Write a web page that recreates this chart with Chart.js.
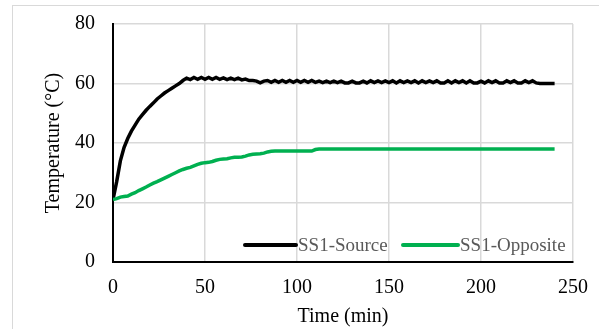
<!DOCTYPE html>
<html>
<head>
<meta charset="utf-8">
<script src="https://cdn.jsdelivr.net/npm/chart.js"></script>
<style>
  html, body { margin: 0; padding: 0; background: #fff; }
  #wrap { position: relative; width: 599px; height: 329px; overflow: hidden; }
  #frame { position: absolute; left: 12px; top: 5px; width: 620px; height: 340px; border: 1px solid #d9d9d9; }
  #c { position: absolute; left: 0; top: 0; }
</style>
</head>
<body>
<div id="wrap">
  <div id="frame"></div>
  <canvas id="c" width="599" height="329"></canvas>
</div>
<script>
// time (min)
const times = [
  0, 2, 4, 6, 8, 10, 12, 14, 16, 18,
  20, 22, 24, 26, 28, 30, 32, 34, 36, 38,
  40, 42, 44, 46, 48, 50, 52, 54, 56, 58,
  60, 62, 64, 66, 68, 70, 72, 74, 76, 78,
  80, 82, 84, 86, 88, 90, 92, 94, 96, 98,
  100, 102, 104, 106, 108, 110, 112, 114, 116, 118,
  120, 122, 124, 126, 128, 130, 132, 134, 136, 138,
  140, 142, 144, 146, 148, 150, 152, 154, 156, 158,
  160, 162, 164, 166, 168, 170, 172, 174, 176, 178,
  180, 182, 184, 186, 188, 190, 192, 194, 196, 198,
  200, 202, 204, 206, 208, 210, 212, 214, 216, 218,
  220, 222, 224, 226, 228, 230, 232, 234, 236, 238,
  240
];

const sourceTemp = [
  21, 27, 34, 38.5, 41.5, 44, 46, 48, 49.5, 51,
  52.3, 53.5, 54.8, 55.8, 56.8, 57.6, 58.4, 59.2, 60, 61,
  61.8, 61.3, 62, 61.4, 62, 61.4, 62, 61.4, 62, 61.4,
  61.9, 61.3, 61.8, 61.3, 61.8, 61.2, 61.5, 61, 61, 60.8,
  60.2, 60.8, 61, 60.4, 61, 60.4, 61, 60.4, 61, 60.4,
  61, 60.4, 61, 60.4, 61, 60.4, 60.8, 60.3, 60.8, 60.3,
  60.8, 60.3, 60.8, 60.2, 60.2, 60.8, 60.2, 60.2, 60.8, 60.2,
  60.9, 60.3, 60.9, 60.3, 60.9, 60.3, 60.9, 60.2, 60.9, 60.3,
  60.9, 60.3, 60.9, 60.2, 60.9, 60.3, 60.9, 60.3, 60.9, 60.2,
  60.2, 60.9, 60.2, 60.9, 60.3, 60.9, 60.2, 60.9, 60.2, 60.2,
  60.8, 60.2, 60.9, 60.3, 60.9, 60.2, 60.2, 60.9, 60.3, 60.9,
  60.2, 60.2, 60.9, 60.3, 60.9, 60.2, 60, 60, 60, 60,
  60
];

const oppositeTemp = [
  21, 21.3, 21.8, 22, 22.2, 22.8, 23.3, 24, 24.6, 25.2,
  25.9, 26.5, 27, 27.6, 28.2, 28.8, 29.4, 30, 30.6, 31.1,
  31.5, 31.8, 32.3, 32.8, 33.2, 33.4, 33.5, 33.8, 34.2, 34.5,
  34.6, 34.7, 35, 35.2, 35.2, 35.3, 35.6, 36, 36.2, 36.3,
  36.4, 36.6, 37, 37.2, 37.3, 37.3, 37.3, 37.3, 37.3, 37.3,
  37.3, 37.3, 37.3, 37.3, 37.3, 37.8, 38, 38, 38, 38,
  38, 38, 38, 38, 38, 38, 38, 38, 38, 38,
  38, 38, 38, 38, 38, 38, 38, 38, 38, 38,
  38, 38, 38, 38, 38, 38, 38, 38, 38, 38,
  38, 38, 38, 38, 38, 38, 38, 38, 38, 38,
  38, 38, 38, 38, 38, 38, 38, 38, 38, 38,
  38, 38, 38, 38, 38, 38, 38, 38, 38, 38,
  38
];

const seriesNames = ["SS1-Source", "SS1-Opposite"];
const seriesColors = ["#000000", "#00B050"];

const FONT = "'Liberation Serif', 'Times New Roman', serif";

// legend drawn inside the plot, bottom right
const insideLegend = {
  id: "insideLegend",
  afterDraw(chart) {
    const ctx = chart.ctx;
    const spots = [
      { x0: 245, x1: 296, tx: 298 },
      { x0: 403, x1: 458, tx: 460 }
    ];
    const y = 245;
    ctx.save();
    chart.data.datasets.forEach((ds, i) => {
      const s = spots[i];
      ctx.strokeStyle = ds.borderColor;
      ctx.lineWidth = 4;
      ctx.lineCap = "round";
      ctx.beginPath();
      ctx.moveTo(s.x0, y);
      ctx.lineTo(s.x1, y);
      ctx.stroke();
      ctx.fillStyle = "#595959";
      ctx.font = "19px " + FONT;
      ctx.textBaseline = "middle";
      ctx.textAlign = "left";
      ctx.fillText(ds.label, s.tx, y + 1);
    });
    ctx.restore();
  }
};

const toPoints = vals => vals.map((v, i) => ({ x: times[i], y: v }));

new Chart(document.getElementById("c").getContext("2d"), {
  type: "line",
  data: {
    datasets: [
      {
        label: seriesNames[0],
        data: toPoints(sourceTemp),
        borderColor: seriesColors[0],
        borderWidth: 3.5,
        pointRadius: 0,
        tension: 0,
        order: 2
      },
      {
        label: seriesNames[1],
        data: toPoints(oppositeTemp),
        borderColor: seriesColors[1],
        borderWidth: 3.5,
        pointRadius: 0,
        tension: 0,
        order: 1
      }
    ]
  },
  options: {
    responsive: false,
    animation: false,
    layout: { padding: { left: 0, right: 26, top: 24, bottom: 0 } },
    plugins: {
      legend: { display: false },
      tooltip: { enabled: false }
    },
    scales: {
      x: {
        type: "linear",
        min: 0,
        max: 250,
        ticks: { stepSize: 50, color: "#000", padding: 14, font: { family: FONT, size: 20 } },
        grid: { color: "#d9d9d9", lineWidth: 1.5, drawTicks: false },
        border: { color: "#000", width: 2 },
        title: { display: true, text: "Time (min)", color: "#000", padding: 0, font: { family: FONT, size: 20 } },
        afterFit(scale) {
          scale.height = 67;
          scale.paddingLeft = 0;
          scale.paddingRight = 0;
        }
      },
      y: {
        min: 0,
        max: 80,
        ticks: { stepSize: 20, color: "#000", padding: 18, font: { family: FONT, size: 20 } },
        grid: { color: "#d9d9d9", lineWidth: 1.5, drawTicks: false },
        border: { color: "#000", width: 2 },
        title: { display: true, text: "Temperature (°C)", color: "#000", padding: { top: 42, bottom: 0 }, font: { family: FONT, size: 20 } },
        afterFit(scale) {
          scale.width = 113;
          scale.paddingTop = 0;
          scale.paddingBottom = 0;
        }
      }
    }
  },
  plugins: [insideLegend]
});
</script>
</body>
</html>
